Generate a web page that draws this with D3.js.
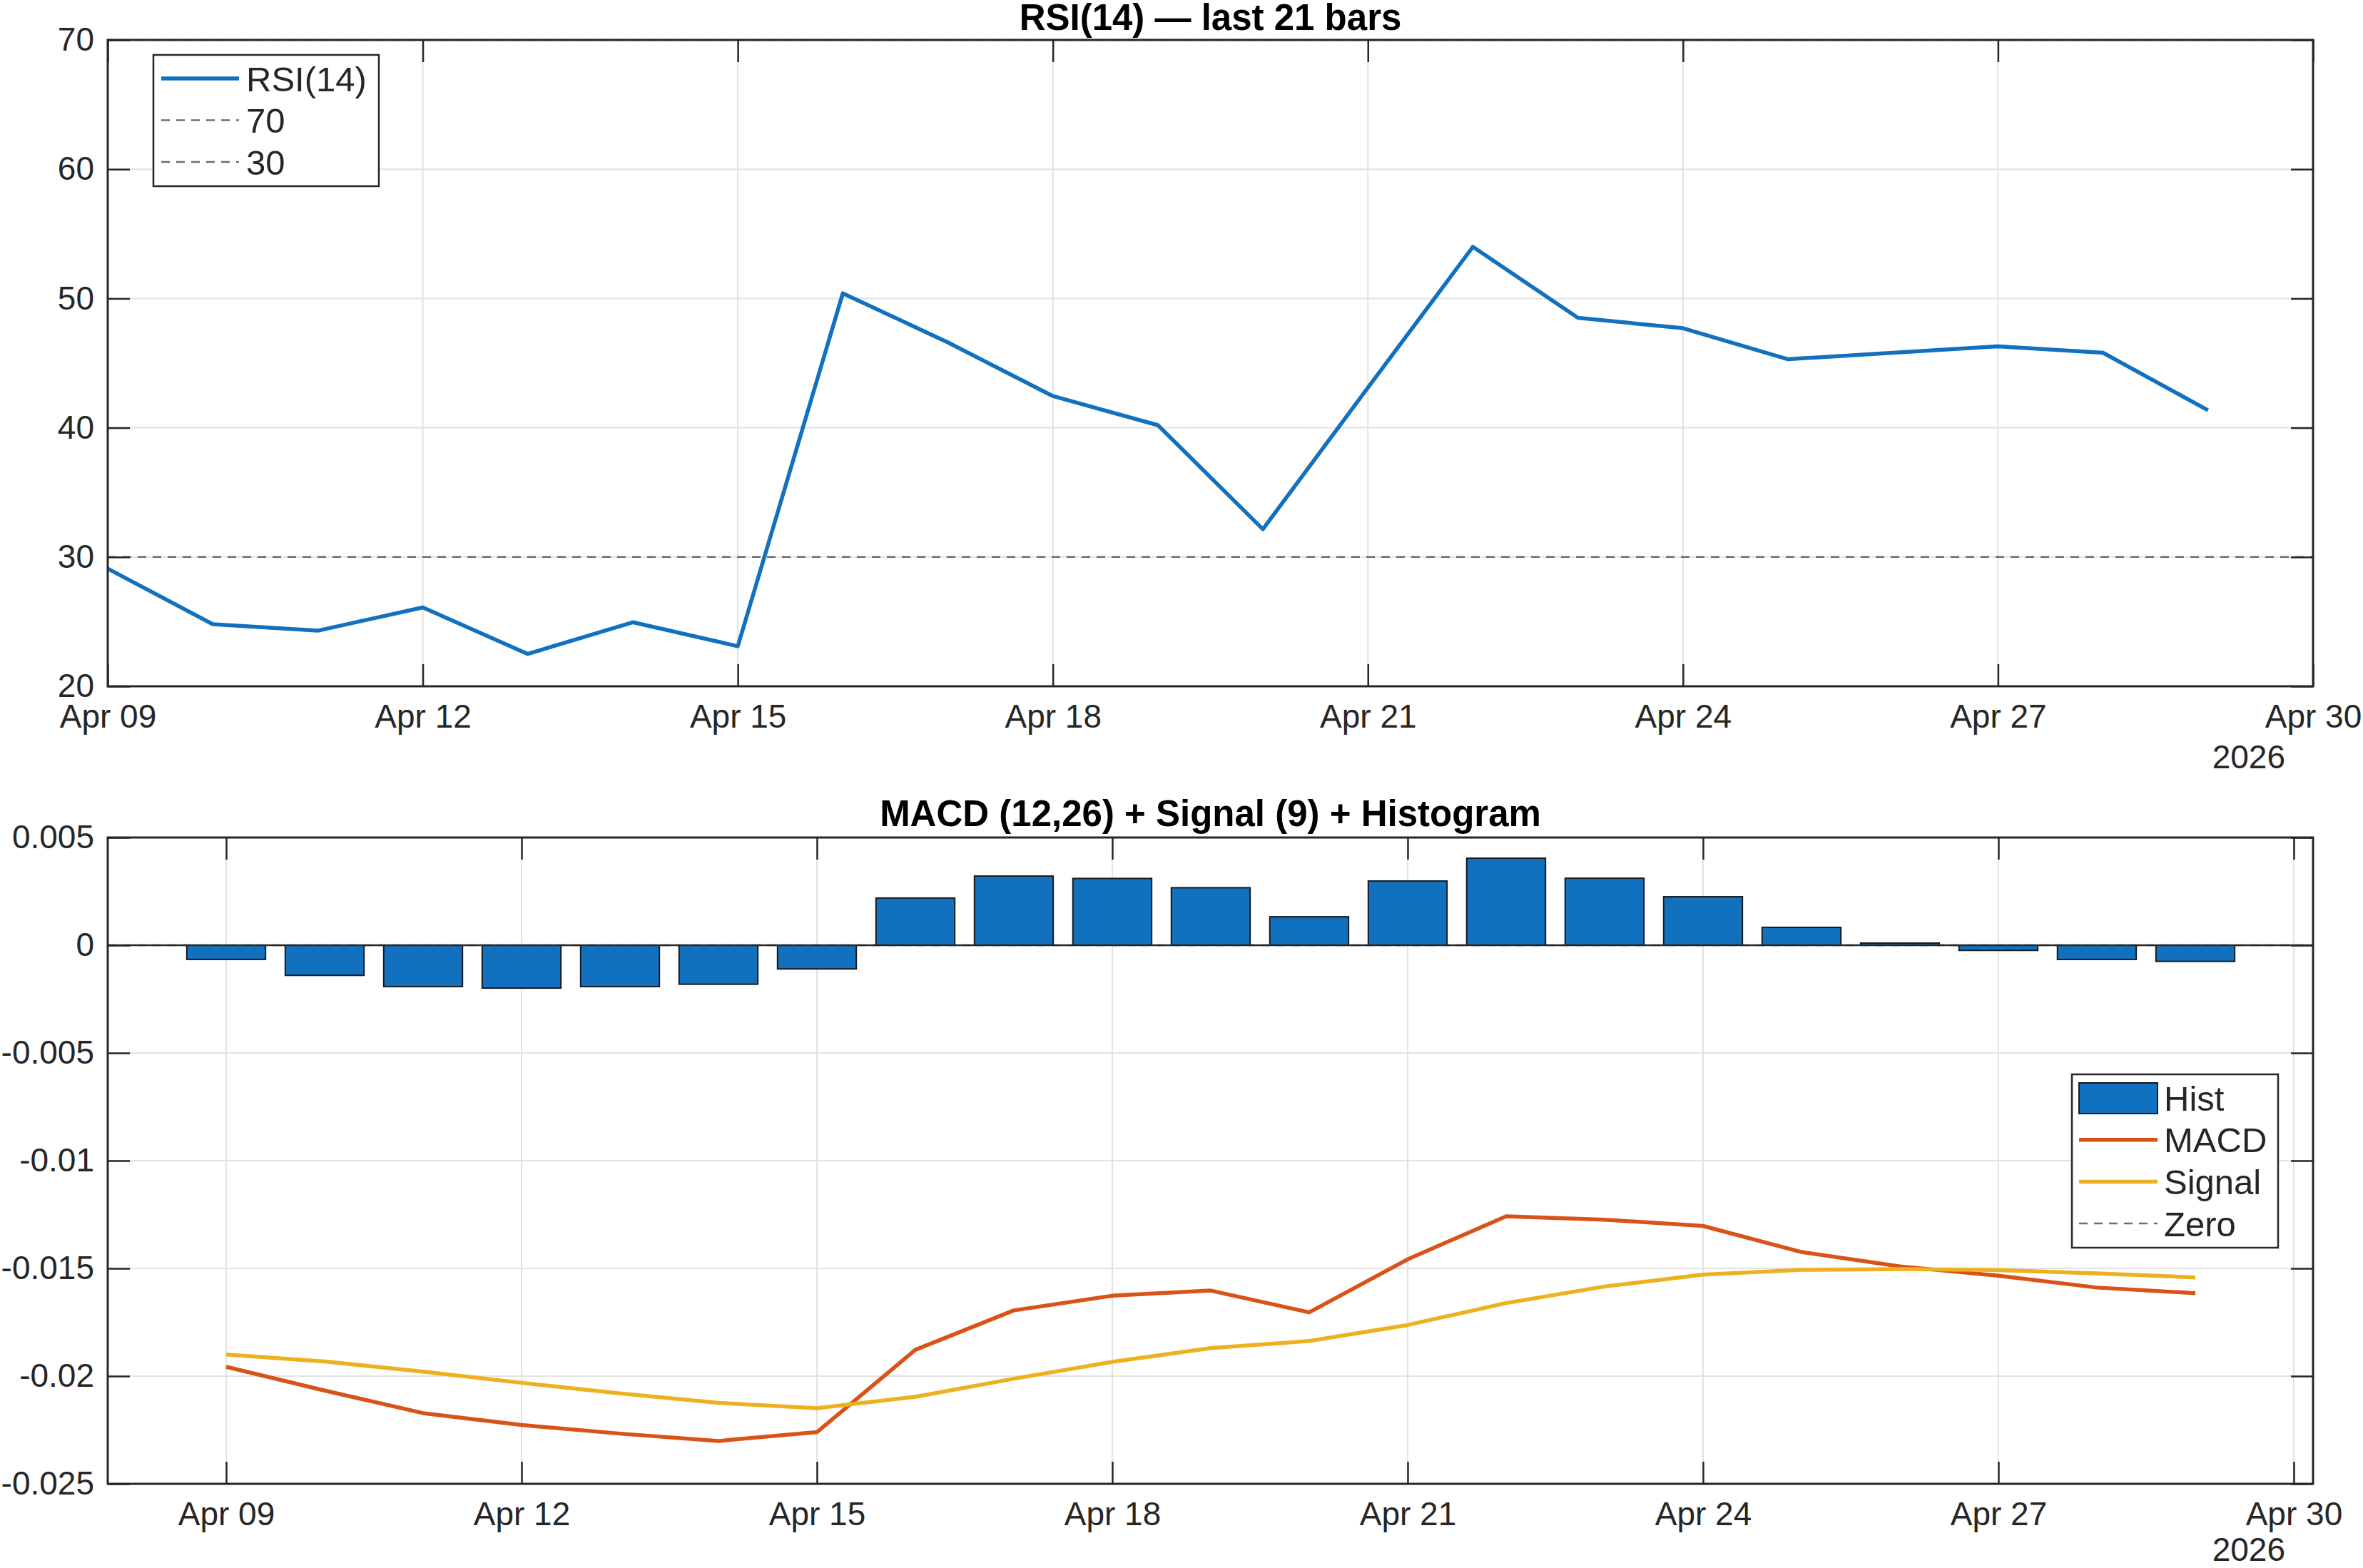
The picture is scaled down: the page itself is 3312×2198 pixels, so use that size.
<!DOCTYPE html>
<html>
<head>
<meta charset="utf-8">
<script src="https://cdn.jsdelivr.net/npm/d3@7"></script>
<style>
  body { margin: 0; background: #fff; }
  svg { display: block; font-family: "Liberation Sans", Arial, Helvetica, sans-serif; }
</style>
</head>
<body>
<svg id="chart" width="3312" height="2198"></svg>
<script>
// ---- data ----
const dates = ["2026-04-09", "2026-04-10", "2026-04-11", "2026-04-12", "2026-04-13", "2026-04-14", "2026-04-15",
  "2026-04-16", "2026-04-17", "2026-04-18", "2026-04-19", "2026-04-20", "2026-04-21", "2026-04-22",
  "2026-04-23", "2026-04-24", "2026-04-25", "2026-04-26", "2026-04-27", "2026-04-28", "2026-04-29"];

const rsi_values = [29.1, 24.8, 24.3, 26.1, 22.5, 24.95, 23.1, 50.4, 46.6, 42.45, 40.2, 32.15, 43.1, 54.0,
  48.5, 47.7, 45.3, 45.8, 46.3, 45.8, 41.35];

const macd_values = [-0.01957, -0.02067, -0.02172, -0.02227, -0.02267, -0.02301, -0.0226, -0.01878, -0.01695,
  -0.01627, -0.01603, -0.01704, -0.01458, -0.01258, -0.01274, -0.01303, -0.01424, -0.01491, -0.01534,
  -0.01589, -0.01615];

const signal_values = [-0.019, -0.01932, -0.01979, -0.02031, -0.0208, -0.02124, -0.02149, -0.02096, -0.02012,
  -0.01934, -0.0187, -0.01837, -0.01763, -0.01661, -0.01584, -0.01529, -0.01507, -0.01503, -0.01508,
  -0.01523, -0.01542];

const hist_values = [-0.00066, -0.0014, -0.00192, -0.00199, -0.00192, -0.00181, -0.0011, 0.00219, 0.00321,
  0.0031, 0.00267, 0.00132, 0.00298, 0.00404, 0.00311, 0.00225, 0.00083, 0.0001, -0.00024, -0.00066,
  -0.00075];

const rsi_levels = [70, 30];
const x_tick_dates = ["2026-04-09", "2026-04-12", "2026-04-15", "2026-04-18", "2026-04-21", "2026-04-24",
  "2026-04-27", "2026-04-30"];
const x_end_date = "2026-04-30";
const year_label = "2026";
const rsi_y_ticks = [20, 30, 40, 50, 60, 70];
const macd_y_ticks = [-0.025, -0.02, -0.015, -0.01, -0.005, 0, 0.005];
const macd_y_labels = ["-0.025", "-0.02", "-0.015", "-0.01", "-0.005", "0", "0.005"];
const rsi_title = "RSI(14) \u2014 last 21 bars";
const macd_title = "MACD (12,26) + Signal (9) + Histogram";
const rsi_legend = ["RSI(14)", "70", "30"];
const macd_legend = ["Hist", "MACD", "Signal", "Zero"];

// ---- look ----
const colors = { blue: "#1171BE", orange: "#D95319", yellow: "#EDB120", axis: "#262626", grid: "#e2e2e2", ref: "#6e6e6e" };
const plot_left = 151;
const plot_right = 3242;
const rsi_box = { top: 56, bottom: 962 };
const macd_box = { top: 1174, bottom: 2080 };
const tick_font = 46;
const legend_font = 49;
const title_font = 51;
const line_w = 5.5;
const day_ms = 864e5;

const parse = d3.utcParse("%Y-%m-%d");
const svg = d3.select("#chart");
const t = dates.map(parse);
const x_ticks = x_tick_dates.map(parse);

function drawGrid(x, y, y_ticks, box) {
  const g = svg.append("g");
  g.selectAll("line.v").data(x_ticks).join("line")
    .attr("x1", d => x(d)).attr("x2", d => x(d))
    .attr("y1", box.top).attr("y2", box.bottom)
    .attr("stroke", colors.grid).attr("stroke-width", 2);
  g.selectAll("line.h").data(y_ticks).join("line")
    .attr("x1", plot_left).attr("x2", plot_right)
    .attr("y1", d => y(d)).attr("y2", d => y(d))
    .attr("stroke", colors.grid).attr("stroke-width", 2);
}

function drawFrame(x, y, y_ticks, y_fmt, box, title, title_y, year_y) {
  const style = g => {
    g.select(".domain").remove();
    g.attr("font-family", null).attr("font-size", tick_font);
    g.selectAll(".tick line").attr("stroke", colors.axis).attr("stroke-width", 2.5);
    g.selectAll(".tick text").attr("fill", colors.axis);
  };
  svg.append("g").attr("transform", `translate(${plot_left},0)`)
    .call(d3.axisLeft(y).tickValues(y_ticks).tickFormat(y_fmt).tickSize(-31).tickPadding(19))
    .call(style);
  svg.append("g").attr("transform", `translate(${plot_right},0)`)
    .call(d3.axisRight(y).tickValues(y_ticks).tickFormat("").tickSize(-31))
    .call(style);
  svg.append("g").attr("transform", `translate(0,${box.bottom})`)
    .call(d3.axisBottom(x).tickValues(x_ticks).tickFormat(d3.utcFormat("%b %d")).tickSize(-31).tickPadding(25))
    .call(style);
  svg.append("g").attr("transform", `translate(0,${box.top})`)
    .call(d3.axisTop(x).tickValues(x_ticks).tickFormat("").tickSize(-31))
    .call(style);

  svg.append("rect")
    .attr("x", plot_left).attr("y", box.top)
    .attr("width", plot_right - plot_left).attr("height", box.bottom - box.top)
    .attr("fill", "none").attr("stroke", colors.axis).attr("stroke-width", 3);

  svg.append("text")
    .attr("x", (plot_left + plot_right) / 2).attr("y", title_y)
    .attr("text-anchor", "middle").attr("font-weight", "bold").attr("font-size", title_font)
    .attr("fill", "#000").text(title);

  svg.append("text")
    .attr("x", 3203).attr("y", year_y)
    .attr("text-anchor", "end").attr("font-size", tick_font).attr("fill", colors.axis)
    .text(year_label);
}

function drawLegend(box, items) {
  const g = svg.append("g");
  g.append("rect")
    .attr("x", box.x).attr("y", box.y).attr("width", box.w).attr("height", box.h)
    .attr("fill", "#fff").attr("stroke", colors.axis).attr("stroke-width", 2.5);
  items.forEach((it, i) => {
    const cy = box.row0 + i * box.step;
    if (it.kind === "patch") {
      g.append("rect")
        .attr("x", box.sx0).attr("y", cy - 21).attr("width", box.sx1 - box.sx0).attr("height", 43)
        .attr("fill", it.color).attr("stroke", "#1a1a1a").attr("stroke-width", 2);
    } else {
      g.append("line")
        .attr("x1", box.sx0).attr("x2", box.sx1).attr("y1", cy).attr("y2", cy)
        .attr("stroke", it.color).attr("stroke-width", it.dash ? 2.5 : line_w)
        .attr("stroke-dasharray", it.dash ? "12,9" : null);
    }
    g.append("text")
      .attr("x", box.tx).attr("y", cy).attr("dy", "0.36em")
      .attr("font-size", legend_font).attr("fill", colors.axis)
      .text(it.label);
  });
}

// ---- RSI panel ----
const x_rsi = d3.scaleUtc()
  .domain([t[0], parse(x_end_date)])
  .range([plot_left, plot_right]);
const y_rsi = d3.scaleLinear().domain([20, 70]).range([rsi_box.bottom, rsi_box.top]);

drawGrid(x_rsi, y_rsi, rsi_y_ticks, rsi_box);

svg.append("g").selectAll("line").data(rsi_levels).join("line")
  .attr("x1", plot_left).attr("x2", plot_right)
  .attr("y1", d => y_rsi(d)).attr("y2", d => y_rsi(d))
  .attr("stroke", colors.ref).attr("stroke-width", 2.5).attr("stroke-dasharray", "12,9");

svg.append("path")
  .datum(rsi_values)
  .attr("fill", "none").attr("stroke", colors.blue).attr("stroke-width", line_w)
  .attr("stroke-linejoin", "round")
  .attr("d", d3.line().x((d, i) => x_rsi(t[i])).y(d => y_rsi(d)));

drawFrame(x_rsi, y_rsi, rsi_y_ticks, d3.format("d"), rsi_box, rsi_title, 42, 1077);

drawLegend({ x: 215, y: 77, w: 316, h: 184, row0: 110, step: 58.5, sx0: 226, sx1: 335, tx: 345 }, [
  { label: rsi_legend[0], color: colors.blue },
  { label: rsi_legend[1], color: colors.ref, dash: true },
  { label: rsi_legend[2], color: colors.ref, dash: true }
]);

// ---- MACD panel ----
const x_macd = d3.scaleUtc()
  .domain([new Date(+t[0] - 1.203 * day_ms), new Date(+parse(x_end_date) + 0.196 * day_ms)])
  .range([plot_left, plot_right]);
const y_macd = d3.scaleLinear().domain([-0.025, 0.005]).range([macd_box.bottom, macd_box.top]);
const bar_w = 0.8 * (x_macd(t[1]) - x_macd(t[0]));

drawGrid(x_macd, y_macd, macd_y_ticks, macd_box);

svg.append("line")
  .attr("x1", plot_left).attr("x2", plot_right)
  .attr("y1", y_macd(0)).attr("y2", y_macd(0))
  .attr("stroke", colors.ref).attr("stroke-width", 2.5).attr("stroke-dasharray", "12,9");

svg.append("g").selectAll("rect").data(hist_values).join("rect")
  .attr("x", (d, i) => x_macd(t[i]) - bar_w / 2)
  .attr("width", bar_w)
  .attr("y", d => y_macd(Math.max(0, d)))
  .attr("height", d => Math.abs(y_macd(d) - y_macd(0)))
  .attr("fill", colors.blue).attr("stroke", "#1a1a1a").attr("stroke-width", 2);

svg.append("line")
  .attr("x1", plot_left).attr("x2", plot_right)
  .attr("y1", y_macd(0)).attr("y2", y_macd(0))
  .attr("stroke", colors.axis).attr("stroke-width", 2.5);

const macd_line = d3.line().x((d, i) => x_macd(t[i])).y(d => y_macd(d));
[[macd_values, colors.orange], [signal_values, colors.yellow]].forEach(([vals, c]) => {
  svg.append("path")
    .datum(vals)
    .attr("fill", "none").attr("stroke", c).attr("stroke-width", line_w)
    .attr("stroke-linejoin", "round")
    .attr("d", macd_line);
});

drawFrame(x_macd, y_macd, macd_y_ticks, (d, i) => macd_y_labels[i], macd_box, macd_title, 1158, 2188);

drawLegend({ x: 2904, y: 1506, w: 289, h: 243, row0: 1539, step: 58.7, sx0: 2914, sx1: 3024, tx: 3033 }, [
  { label: macd_legend[0], color: colors.blue, kind: "patch" },
  { label: macd_legend[1], color: colors.orange },
  { label: macd_legend[2], color: colors.yellow },
  { label: macd_legend[3], color: colors.ref, dash: true }
]);
</script>
</body>
</html>
